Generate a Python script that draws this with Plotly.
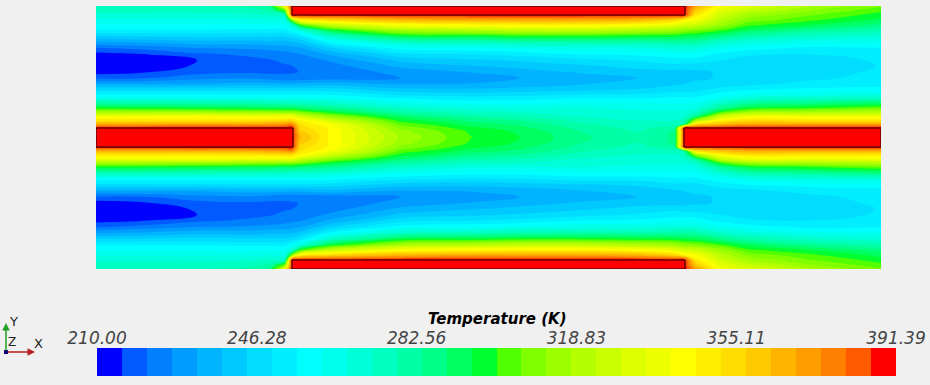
import numpy as np
import plotly.graph_objects as go

# Station along the channel and height above the centre line (same units as the 785 x 263 domain)
x_station = [0, 54, 100, 154, 174, 189, 196, 204, 234, 304, 374, 424, 484, 544, 579, 588, 599, 624, 653, 714, 785]
y_above_centre = [131.5, 127.5, 122.5, 117.5, 112.5, 107.5, 101.5, 95.5, 89.5, 83.5, 77.5, 71.5, 65.5,
                  59.5, 53.5, 47.5, 41.5, 35.5, 29.5, 25.5, 21.5, 17.5, 13.5, 9.5, 5.5, 0]

# Temperature (K), one list per station, from the wall down to the centre line
T_st_0 = [278,275,270,265,260,255,244,232,221,214,211,211,213,220,233,248,258,278,298,316,338,350,367,391,391,391]
T_st_54 = [278,275,270,265,260,255,245,234,224,216,213,213,215.5,221,233,248,258,277,297,316,339,350,367,391,391,391]
T_st_100 = [278,275,270,265,260,255,246,236,227,220.5,215.6,216.2,219,225,233,248,258,276,296,315,340,350,368,391,391,391]
T_st_154 = [280,276,271,265,260,254,245,236,228,222.5,220,218.4,220.5,226,235,248,258,275,294,313,338,350,368,391,391,391]
T_st_174 = [285,280,273,266,261,254,245,237,229,223.5,221,219.7,220,224.5,235,248,258,274,293,312,338,351,370,391,391,391]
T_st_189 = [345,310,275,265,260,254,245,237,230,225,222.5,220.9,220.6,223,234,248,258,273,292,311,338,352,372,391,391,391]
T_st_196 = [391,391,391,310,270,258,247,238,231,226,223,221.3,220.9,223,234,248,258,272,292,311,338,352,375,391,391,391]
T_st_204 = [391,391,391,345,300,268,250,240,232,227,224,222,221.5,223.5,234,248,258,272,290,308,328,345,352,355,360,365]
T_st_234 = [391,391,391,355,325,297,273,256,243,234,228,224.5,223,224,236,247,257,270,285,297,312,328,340,345,345,345]
T_st_304 = [391,391,391,365,342,318,295,273,258,248,240,234,229,227,232,241,251,262,273,281,290,298,305,311,315,317]
T_st_374 = [391,391,391,368,345,322,297,276,260,250,243,238,233,230,233,240,249,258,267,274,280,287,292,297,300,301]
T_st_424 = [391,391,391,368,347,325,300,279,263,252,245,240,236,232.7,235,241,250,258,266,272,277,283,288,291,294,295]
T_st_484 = [391,391,391,368,347,325,300,280,265,256,248,243,239,235.5,238,243,252,260,267,268,272,276,279,282,284,285]
T_st_544 = [391,391,391,365,342,320,298,280,266,257,251,246,242,238.5,240,245,252,260,265,268,270,272,274,276,278,279]
T_st_579 = [391,391,391,355,335,316,297,281,268,259,253,248,241.5,240.5,243,248,254,260,265,268,270,272,274,283,285,285]
T_st_588 = [391,391,391,345,330,312,295,281,268,259,253,247,242,241.5,244,248,254,260,265,268,271,274,280,391,391,391]
T_st_599 = [372,362,351,341,327,310,294,281,268,259,253,247,243,243,245,248,254,260,266,272,283,310,350,391,391,391]
T_st_624 = [342,335,328,322,315,303,287,273,262,254,250,246,244.5,244.5,246.5,252,259,270,284,300,325,343,362,391,391,391]
T_st_653 = [333,325,316,310,302,293,280,268,258,251,247,244.5,244,245,248,255,264,280,296,315,338,352,368,391,391,391]
T_st_714 = [318,313,307,302,295,285,273,263,254,250,247,246,246.5,248,252,257,267,284,301,317,337,350,368,391,391,391]
T_st_785 = [307,303,298,293,287,279,270,262,255,252,250.5,250,251,252,254,257,268,288,306,321,338,350,368,391,391,391]

# Heated plates: along-channel start and end, inner and outer height above the centre line
plate_top_x = [196, 589]
plate_top_y = [122.5, 131.5]
plate_left_x = [0, 197]
plate_right_x = [588, 785]
plate_mid_half_height = 9.5

# Legend scale
T_min, T_max = 210.00, 391.39
n_bins = 32
tick_vals = [210.00, 246.28, 282.56, 318.83, 355.11, 391.39]
tick_text = ["210.00", "246.28", "282.56", "318.83", "355.11", "391.39"]
bin_colors = ["#0000ff", "#005aff", "#007fff", "#009cff", "#00b4ff", "#00c9ff", "#00ddff", "#00eeff",
              "#00ffff", "#00ffec", "#00ffd8", "#00ffc1", "#00ffa7", "#00ff88", "#00ff60", "#00ff30",
              "#50ff00", "#7fff00", "#9cff00", "#b4ff00", "#c9ff00", "#ddff00", "#eeff00", "#ffff00",
              "#ffee00", "#ffdd00", "#ffc900", "#ffb400", "#ff9c00", "#ff7f00", "#ff5a00", "#ff0000"]

columns = [T_st_0, T_st_54, T_st_100, T_st_154, T_st_174, T_st_189, T_st_196, T_st_204, T_st_234, T_st_304,
           T_st_374, T_st_424, T_st_484, T_st_544, T_st_579, T_st_588, T_st_599, T_st_624, T_st_653, T_st_714,
           T_st_785]

W, H = 930, 385
half = np.array(columns, dtype=float).T
y_half = np.array(y_above_centre)
# the field is mirror-symmetric about the centre line
y_full = np.concatenate([-y_half, y_half[-2::-1]])
z_full = np.vstack([half, half[-2::-1]])

step = (T_max - T_min) / n_bins
scale = [[i / (n_bins - 1), c] for i, c in enumerate(bin_colors)]

fig = go.Figure()
fig.add_trace(go.Contour(
    x=x_station, y=y_full, z=z_full,
    colorscale=scale, autocontour=False, showscale=False,
    contours=dict(coloring="fill", start=T_min + step, end=T_max - step, size=step, showlines=False),
    line=dict(width=0, smoothing=1.3),
    hoverinfo="skip",
))

# The colour legend: one cell per colour band, on its own temperature axis
band_edges = [T_min + i * step for i in range(n_bins + 1)]
band_centres = [T_min + (i + 0.5) * step for i in range(n_bins)]
fig.add_trace(go.Heatmap(
    x=band_edges, y=[0, 1], z=[band_centres], xaxis="x2", yaxis="y2",
    colorscale=scale, zmin=band_centres[0], zmax=band_centres[-1], showscale=False, hoverinfo="skip",
))


def plate(xs, ys):
    fig.add_trace(go.Scatter(
        x=[xs[0], xs[1], xs[1], xs[0], xs[0]], y=[ys[0], ys[0], ys[1], ys[1], ys[0]],
        mode="lines", fill="toself", fillcolor="#ff0000",
        line=dict(color="#200000", width=1), hoverinfo="skip", showlegend=False))


plate(plate_top_x, plate_top_y)
plate(plate_top_x, [-plate_top_y[0], -plate_top_y[1]])
plate(plate_left_x, [-plate_mid_half_height, plate_mid_half_height])
plate(plate_right_x, [-plate_mid_half_height, plate_mid_half_height])


def px(x):
    return x / W


def py(y):
    return 1 - y / H


def label(text, x, y, size, color):
    return dict(text=text, x=px(x), y=py(y), xref="paper", yref="paper", showarrow=False,
                xanchor="center", yanchor="middle",
                font=dict(family="DejaVu Sans", size=size, color=color))


annotations = [
    label("<b><i>Temperature (K)</i></b>", 497, 319, 15, "#000000"),
    label("Y", 13, 321, 13, "#222222"),
    label("Z", 12, 342, 12, "#222222"),
    label("X", 38, 343, 13, "#222222"),
    dict(text="", x=px(6), y=py(323), xref="paper", yref="paper", ax=0, ay=29, showarrow=True,
         arrowhead=2, arrowsize=1, arrowwidth=1.5, arrowcolor="#22a022"),
    dict(text="", x=px(35), y=py(352), xref="paper", yref="paper", ax=-29, ay=0, showarrow=True,
         arrowhead=2, arrowsize=1, arrowwidth=1.5, arrowcolor="#b02020"),
]

shapes = [dict(type="rect", xref="paper", yref="paper", x0=px(4), x1=px(8), y0=py(354), y1=py(350),
               fillcolor="#000080", line=dict(width=0))]

fig.update_layout(
    width=W, height=H, autosize=False,
    margin=dict(l=0, r=0, t=0, b=0, pad=0, autoexpand=False),
    paper_bgcolor="#f0f0f0", plot_bgcolor="#f0f0f0",
    xaxis=dict(domain=[96 / W, 881 / W], range=[0, 785], visible=False, fixedrange=True),
    yaxis=dict(domain=[1 - 269 / H, 1 - 6 / H], range=[-131.5, 131.5], visible=False, fixedrange=True),
    xaxis2=dict(domain=[97 / W, 896 / W], range=[T_min, T_max], anchor="y2", side="top", fixedrange=True,
                tickmode="array", tickvals=tick_vals, ticktext=tick_text, ticks="", showgrid=False,
                zeroline=False, showline=False, ticklabeloverflow="allow",
                tickfont=dict(family="DejaVu Sans", size=17, style="italic", color="#444444")),
    yaxis2=dict(domain=[1 - 376 / H, 1 - 348 / H], range=[0, 1], visible=False, anchor="x2", fixedrange=True),
    annotations=annotations, shapes=shapes, showlegend=False,
)

fig.write_html("out.html", config=dict(displayModeBar=False),
               post_script="document.body.style.margin='0';document.body.style.background='#f0f0f0';")
